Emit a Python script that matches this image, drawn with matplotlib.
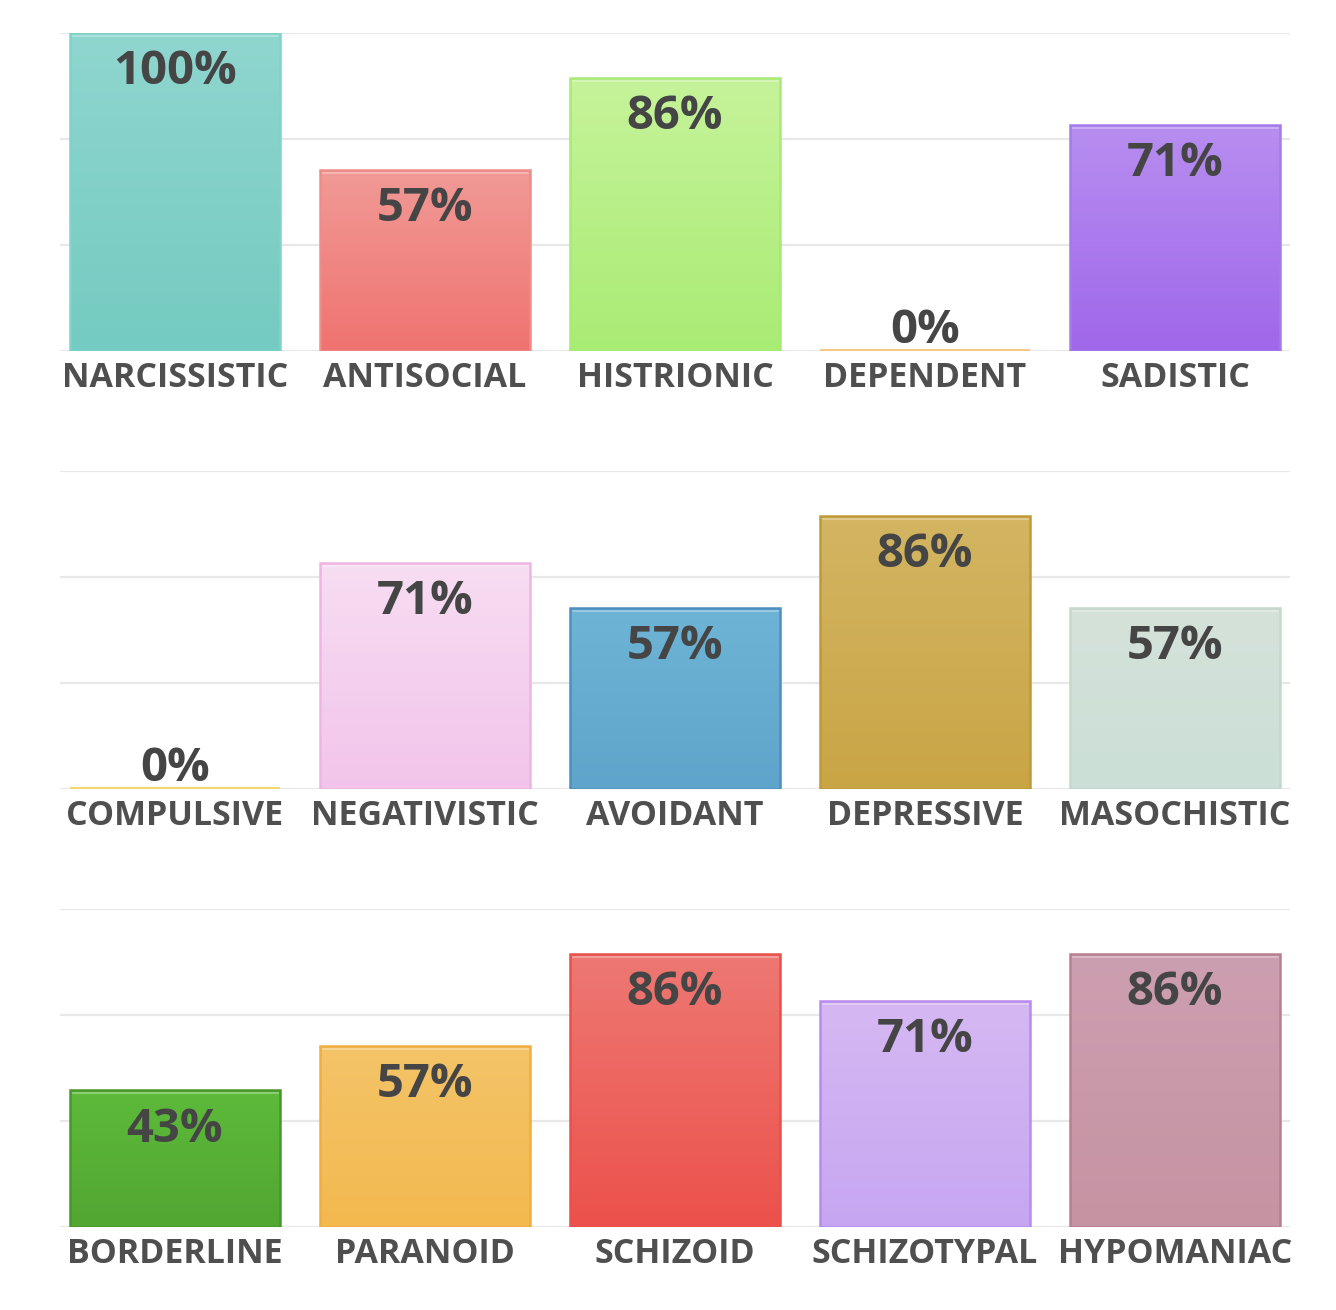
import matplotlib
matplotlib.use("Agg")
import matplotlib.pyplot as plt
import matplotlib.transforms as mtransforms
from matplotlib.colors import to_rgb
import numpy as np

plt.rcParams['font.family'] = ['Open Sans', 'DejaVu Sans']

# ---- data ----
panel1_labels = ["NARCISSISTIC", "ANTISOCIAL", "HISTRIONIC", "DEPENDENT", "SADISTIC"]
panel1_values = [100, 57, 86, 0, 71]
panel2_labels = ["COMPULSIVE", "NEGATIVISTIC", "AVOIDANT", "DEPRESSIVE", "MASOCHISTIC"]
panel2_values = [0, 71, 57, 86, 57]
panel3_labels = ["BORDERLINE", "PARANOID", "SCHIZOID", "SCHIZOTYPAL", "HYPOMANIAC"]
panel3_values = [43, 57, 86, 71, 86]

# (top colour, bottom colour, edge colour)
panel1_colors = [("#8fd6cf", "#74cbc1", "#7fd3c9"),
                 ("#f19a96", "#ef7370", "#ee8c88"),
                 ("#c6f39a", "#a9ec74", "#a8ea78"),
                 ("#f8dcb0", "#f7d49c", "#f5c98a"),
                 ("#b78ef0", "#a067ea", "#a57be8")]
panel2_colors = [("#f7e7a0", "#f5df80", "#f2d870"),
                 ("#f7ddf2", "#f2c4eb", "#eeb5e4"),
                 ("#6eb4d6", "#5fa5cb", "#4d8fbf"),
                 ("#d3b562", "#c9a545", "#c09a38"),
                 ("#d5e2da", "#cbdfd6", "#c4d8cc")]
panel3_colors = [("#5dba3a", "#52a632", "#4a962e"),
                 ("#f4c468", "#f3b94f", "#f0ad40"),
                 ("#ee7873", "#ec514b", "#e8504a"),
                 ("#d5b8f3", "#c7a6f1", "#b98af0"),
                 ("#cc9fb0", "#c693a2", "#b8808f")]

panels = [(panel1_labels, panel1_values, panel1_colors),
          (panel2_labels, panel2_values, panel2_colors),
          (panel3_labels, panel3_values, panel3_colors)]

W, H = 1336, 1310
fig = plt.figure(figsize=(W / 100, H / 100), dpi=100)
fig.patch.set_facecolor("white")

panel_tops = [33, 471, 909]
panel_h = 318
left_px, right_px = 60, 1290

for (labels, values, colors), top in zip(panels, panel_tops):
    ax = fig.add_axes([left_px / W, 1 - (top + panel_h) / H,
                       (right_px - left_px) / W, panel_h / H])
    ax.set_xlim(-0.46, 4.46)
    ax.set_ylim(0, 100)
    for s in ax.spines.values():
        s.set_visible(False)
    ax.set_yticks([0, 100 / 3, 200 / 3, 100])
    ax.yaxis.grid(True, color="#e8e8e8", linewidth=1.6, zorder=0)
    ax.set_axisbelow(True)
    ax.tick_params(axis="y", left=False, labelleft=False)
    x = np.arange(len(labels))
    ax.set_xticks(x)
    ax.set_xticklabels(labels, fontsize=24.5, fontweight="bold", color="#4f4f4f")
    ax.tick_params(axis="x", length=0, pad=7)

    for xi, v, (ctop, cbot, cedge) in zip(x, values, colors):
        bar = ax.bar(xi, v, width=0.84, facecolor="none", edgecolor=cedge,
                     linewidth=1.8 if v > 0 else 3.0, zorder=3)[0]
        if v > 0:
            grad = np.linspace(0, 1, 256)[:, None]
            c0 = np.array(to_rgb(ctop))
            c1 = np.array(to_rgb(cbot))
            img = c0[None, None, :] * (1 - grad[..., None]) + c1[None, None, :] * grad[..., None]
            im = ax.imshow(img, extent=(xi - 0.42, xi + 0.42, 0, v), aspect="auto",
                           origin="upper", zorder=2, interpolation="bilinear")
            im.set_clip_path(bar)
            # faint highlight line near the top
            off = mtransforms.offset_copy(ax.transData, fig=fig, x=0, y=-3, units="dots")
            ax.plot([xi - 0.41, xi + 0.41], [v, v], color="white", alpha=0.35,
                    linewidth=1.2, transform=off, zorder=4)
        if v >= 20:
            ax.annotate(f"{v}%", (xi, v), xytext=(0, -11), textcoords="offset points",
                        ha="center", va="top", fontsize=34, fontweight="bold",
                        color="#454545", zorder=5)
        else:
            ax.annotate(f"{v}%", (xi, v), xytext=(0, 6), textcoords="offset points",
                        ha="center", va="baseline", fontsize=34, fontweight="bold",
                        color="#454545", zorder=5)
    ax.set_xlim(-0.46, 4.46)
    ax.set_ylim(0, 100)

fig.savefig("out.png", dpi=100, facecolor="white")
